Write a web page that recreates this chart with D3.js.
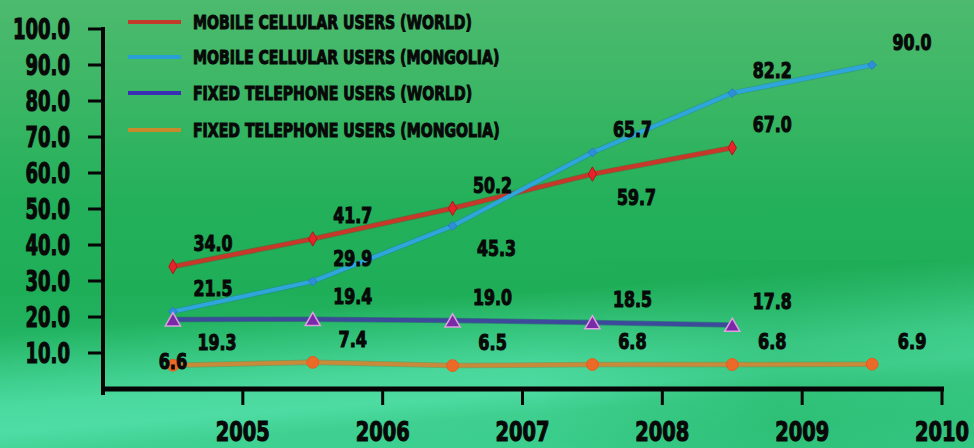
<!DOCTYPE html>
<html>
<head>
<meta charset="utf-8">
<script src="https://cdn.jsdelivr.net/npm/d3@7"></script>
<style>
  html, body { margin: 0; padding: 0; background: #2db35e; }
  svg { display: block; }
  text { font-family: "DejaVu Sans", sans-serif; font-weight: bold; fill: #080808; }
</style>
</head>
<body>
<svg id="chart" width="974" height="448"></svg>
<script>
// ---- data ----
const categories = ["2005", "2006", "2007", "2008", "2009", "2010"];
const seriesNames = [
  "MOBILE CELLULAR USERS (WORLD)",
  "MOBILE CELLULAR USERS (MONGOLIA)",
  "FIXED TELEPHONE USERS (WORLD)",
  "FIXED TELEPHONE USERS (MONGOLIA)"
];
const mobileWorld    = [34.0, 41.7, 50.2, 59.7, 67.0];
const mobileMongolia = [21.5, 29.9, 45.3, 65.7, 82.2, 90.0];
const fixedWorld     = [19.3, 19.4, 19.0, 18.5, 17.8];
const fixedMongolia  = [6.6, 7.4, 6.5, 6.8, 6.8, 6.9];
const yTicks = [10, 20, 30, 40, 50, 60, 70, 80, 90, 100];
// label placement relative to point: "a" above-right, "b" below-right, "c" on point
const mobileWorldLabelPos    = ["a", "a", "a", "b", "a"];
const mobileMongoliaLabelPos = ["a", "a", "b", "a", "a", "a"];
const fixedWorldLabelPos     = ["b", "a", "a", "a", "a"];
const fixedMongoliaLabelPos  = ["c", "a", "a", "a", "a", "a"];

const seriesStyle = [
  { line: "#c8372a", legend: "#c23a2a", marker: "diamond", size: 60, fill: "#e8222a", stroke: "#b01818" },
  { line: "#2ea6dc", legend: "#2a9fd6", marker: "square",  size: 50, fill: "#2c8fd8", stroke: "#2a7fc0" },
  { line: "#3d4a9c", legend: "#3a2fb4", marker: "triangle", size: 100, fill: "#7a2aa8", stroke: "#e0a0e0" },
  { line: "#c98a3a", legend: "#c98a2c", marker: "circle", size: 110, fill: "#ec6a28", stroke: "#e06020" }
];
const seriesData = [mobileWorld, mobileMongolia, fixedWorld, fixedMongolia];
const seriesLabelPos = [mobileWorldLabelPos, mobileMongoliaLabelPos, fixedWorldLabelPos, fixedMongoliaLabelPos];

// ---- drawing ----
const W = 974, H = 448;
const svg = d3.select("#chart");
const defs = svg.append("defs");

const bg = defs.append("linearGradient").attr("id", "bg").attr("x1", 0).attr("y1", 0).attr("x2", 0).attr("y2", 1);
[[0, "#4dba6e"], [0.2, "#3cb766"], [0.45, "#24b05a"], [0.65, "#1fae58"], [1, "#2cc27a"]].forEach(([o, c]) =>
  bg.append("stop").attr("offset", o).attr("stop-color", c));
svg.append("rect").attr("width", W).attr("height", H).attr("fill", "url(#bg)");

// lighter slanted glow band near the bottom
const glow = defs.append("linearGradient").attr("id", "glow").attr("gradientUnits", "userSpaceOnUse")
  .attr("x1", 460).attr("y1", 0).attr("x2", 495).attr("y2", 448);
[[0, 0], [0.66, 0], [0.76, 0.35], [0.82, 0.55], [0.88, 0.6], [0.93, 0.35], [1, 0.25]].forEach(([o, a]) =>
  glow.append("stop").attr("offset", o).attr("stop-color", "#66f0c4").attr("stop-opacity", a));
svg.append("rect").attr("width", W).attr("height", H).attr("fill", "url(#glow)");
// fade the glow on the right side
const rfade = defs.append("linearGradient").attr("id", "rfade").attr("x1", 0).attr("y1", 0).attr("x2", 1).attr("y2", 0);
[[0, 0], [0.55, 0], [0.8, 0.35], [1, 0.2]].forEach(([o, a]) =>
  rfade.append("stop").attr("offset", o).attr("stop-color", "#1aaa55").attr("stop-opacity", a));
svg.append("rect").attr("y", 260).attr("width", W).attr("height", 188).attr("fill", "url(#rfade)");

const x = d3.scaleBand().domain(categories).range([103, 942]).padding(0);
const y = d3.scaleLinear().domain([0, 100]).range([389, 29]);
const cx = c => x(c) + x.bandwidth() / 2;

// fit a text group so that a sample string gets a target width
function fitGroup(sel, sample, target) {
  let k = 1;
  sel.each(function () { if (this.textContent === sample) k = target / this.getComputedTextLength(); });
  sel.each(function () {
    const w = this.getComputedTextLength();
    d3.select(this).attr("textLength", w * k).attr("lengthAdjust", "spacingAndGlyphs");
  });
}

// y axis
const yAxis = svg.append("g");
yAxis.append("line").attr("x1", 103).attr("x2", 103).attr("y1", y(100) - 2).attr("y2", y(0) + 6)
  .attr("stroke", "#050505").attr("stroke-width", 4);
yAxis.selectAll("line.tick").data(yTicks).join("line").attr("class", "tick")
  .attr("x1", 88).attr("x2", 103).attr("y1", d => y(d)).attr("y2", d => y(d))
  .attr("stroke", "#050505").attr("stroke-width", 3);
const yLab = yAxis.selectAll("text").data(yTicks).join("text")
  .attr("x", 70).attr("y", d => y(d)).attr("dy", "0.36em").attr("text-anchor", "end")
  .attr("font-size", 28).attr("stroke", "#080808").attr("stroke-width", 1.2)
  .text(d => d.toFixed(1));
fitGroup(yLab, "100.0", 57);

// x axis
const xAxis = svg.append("g");
xAxis.append("line").attr("x1", 101).attr("x2", 944).attr("y1", y(0)).attr("y2", y(0))
  .attr("stroke", "#050505").attr("stroke-width", 5);
xAxis.selectAll("line.tick").data(categories).join("line").attr("class", "tick")
  .attr("x1", d => x(d) + x.bandwidth()).attr("x2", d => x(d) + x.bandwidth())
  .attr("y1", y(0)).attr("y2", y(0) + 16)
  .attr("stroke", "#050505").attr("stroke-width", 3);
// x labels: horizontally compressed with a scale transform
const xLabW = 54;
const xLab = xAxis.selectAll("text").data(categories).join("text")
  .attr("x", 0).attr("y", 0).attr("dy", "0.36em").attr("text-anchor", "middle")
  .attr("font-size", 27).attr("stroke", "#080808").attr("stroke-width", 1.2)
  .text(d => d);
let xk = 1;
xLab.each(function (d) { if (d === "2005") xk = xLabW / this.getComputedTextLength(); });
xLab.attr("transform", d => `translate(${Math.min(x(d) + x.bandwidth(), W - xLabW / 2 - 5)},431) scale(${xk},1)`);

// lines and markers
const symbolType = { diamond: d3.symbolDiamond, square: d3.symbolDiamond2, triangle: d3.symbolTriangle, circle: d3.symbolCircle };

seriesData.forEach((vals, si) => {
  const st = seriesStyle[si];
  const pts = vals.map((v, i) => [cx(categories[i]), y(v)]);
  const g = svg.append("g");
  g.append("path").attr("d", d3.line()(pts)).attr("fill", "none")
    .attr("stroke", d3.color(st.line).darker(0.8)).attr("stroke-width", 5.5).attr("stroke-opacity", 0.45)
    .attr("stroke-linejoin", "round");
  g.append("path").attr("d", d3.line()(pts)).attr("fill", "none")
    .attr("stroke", st.line).attr("stroke-width", 4).attr("stroke-linejoin", "round");
  g.selectAll("path.m").data(pts).join("path").attr("class", "m")
    .attr("transform", p => `translate(${p[0]},${p[1] + (st.marker === "triangle" ? 2 : 0)})`)
    .attr("d", d3.symbol().type(symbolType[st.marker]).size(st.size))
    .attr("fill", st.fill).attr("stroke", st.stroke).attr("stroke-width", st.marker === "triangle" ? 1.5 : 1);
});

// data labels
seriesData.forEach((vals, si) => {
  const posArr = seriesLabelPos[si];
  const lab = svg.append("g").selectAll("text").data(vals).join("text")
    .attr("x", (v, i) => {
      const p = posArr[i];
      return cx(categories[i]) + (p === "c" ? 0 : p === "b" ? 44 : 40);
    })
    .attr("y", (v, i) => {
      const p = posArr[i];
      return y(v) + (p === "c" ? -4 : p === "b" ? 23 : -23);
    })
    .attr("dy", "0.36em").attr("text-anchor", "middle")
    .attr("font-size", 21).attr("stroke", "#080808").attr("stroke-width", 1.1)
    .text(v => v.toFixed(1));
  lab.each(function () {
    const chars = this.textContent.length;
    d3.select(this).attr("textLength", (chars - 1) * 10.5 + 7.5).attr("lengthAdjust", "spacingAndGlyphs");
  });
});

// legend
const legendY = [22, 57, 93, 130];
const lg = svg.append("g");
seriesNames.forEach((name, i) => {
  lg.append("line").attr("x1", 128).attr("x2", 181).attr("y1", legendY[i]).attr("y2", legendY[i])
    .attr("stroke", seriesStyle[i].legend).attr("stroke-width", 4);
});
const legText = lg.selectAll("text").data(seriesNames).join("text")
  .attr("x", 193).attr("y", (d, i) => legendY[i]).attr("dy", "0.36em")
  .attr("font-size", 19).attr("stroke", "#080808").attr("stroke-width", 1.1)
  .text(d => d);
fitGroup(legText, "MOBILE CELLULAR USERS (WORLD)", 279);
</script>
</body>
</html>
